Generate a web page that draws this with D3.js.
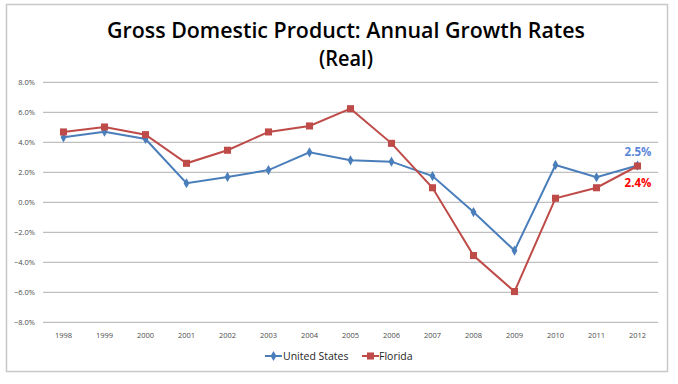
<!DOCTYPE html>
<html>
<head>
<meta charset="utf-8">
<script src="https://cdn.jsdelivr.net/npm/d3@7"></script>
<style>
  body { margin: 0; background: #fff; }
  text { font-family: "Open Sans", "Liberation Sans", sans-serif; }
</style>
</head>
<body>
<div id="chart"></div>
<script>
const years = ["1998","1999","2000","2001","2002","2003","2004","2005","2006","2007","2008","2009","2010","2011","2012"];
const unitedStates = [4.33, 4.71, 4.22, 1.27, 1.69, 2.15, 3.33, 2.8, 2.71, 1.75, -0.65, -3.22, 2.49, 1.67, 2.45];
const florida = [4.69, 5.02, 4.51, 2.6, 3.47, 4.69, 5.09, 6.24, 3.93, 0.97, -3.55, -5.95, 0.27, 0.97, 2.42];
const yTicks = [-8, -6, -4, -2, 0, 2, 4, 6, 8];
const endLabels = ["2.5%", "2.4%"];

const W = 678, H = 384;

const svg = d3.select("#chart").append("svg")
    .attr("width", W)
    .attr("height", H);

// outer frame
svg.append("rect")
    .attr("x", 6.5).attr("y", 4.5)
    .attr("width", 661).attr("height", 367)
    .attr("fill", "#fff")
    .attr("stroke", "#c8c8c8")
    .attr("stroke-width", 1.5);

// title
svg.append("text")
    .attr("x", 346).attr("y", 38)
    .attr("text-anchor", "middle")
    .attr("font-size", 21)
    .attr("font-weight", 600)
    .attr("textLength", 478)
    .attr("lengthAdjust", "spacingAndGlyphs")
    .text("Gross Domestic Product: Annual Growth Rates");
svg.append("text")
    .attr("x", 346).attr("y", 66)
    .attr("text-anchor", "middle")
    .attr("font-size", 21)
    .attr("font-weight", 600)
    .attr("textLength", 54)
    .attr("lengthAdjust", "spacingAndGlyphs")
    .text("(Real)");

const x = d3.scaleBand()
    .domain(years)
    .range([43, 658]);

const y = d3.scaleLinear()
    .domain([-8, 8])
    .range([322.3, 82.3]);

// gridlines
svg.append("g")
    .selectAll("line")
    .data(yTicks)
    .enter()
    .append("line")
    .attr("x1", 43).attr("x2", 658)
    .attr("y1", d => y(d)).attr("y2", d => y(d))
    .attr("stroke", "#bfbfbf")
    .attr("stroke-width", 1.3);

// y labels
svg.append("g")
    .selectAll("text")
    .data(yTicks)
    .enter()
    .append("text")
    .attr("x", 35)
    .attr("y", d => y(d) + 3)
    .attr("text-anchor", "end")
    .attr("font-size", 7.5)
    .attr("fill", "#4d4d4d")
    .text(d => d3.format(".1f")(d) + "%");

// x labels
svg.append("g")
    .selectAll("text")
    .data(years)
    .enter()
    .append("text")
    .attr("x", d => x(d) + x.bandwidth() / 2)
    .attr("y", 338)
    .attr("text-anchor", "middle")
    .attr("font-size", 7.5)
    .attr("fill", "#4d4d4d")
    .text(d => d);

const line = d3.line()
    .x((d, i) => x(years[i]) + x.bandwidth() / 2)
    .y(d => y(d));

const series = [
    { name: "United States", values: unitedStates, color: "#4a7ebb", symbol: d3.symbolDiamond, size: 30 },
    { name: "Florida", values: florida, color: "#be4b48", symbol: d3.symbolSquare, size: 50 }
];

series.forEach(s => {
    svg.append("path")
        .datum(s.values)
        .attr("fill", "none")
        .attr("stroke", s.color)
        .attr("stroke-width", 2)
        .attr("d", line);
});
series.forEach(s => {
    svg.append("g")
        .selectAll("path")
        .data(s.values)
        .enter()
        .append("path")
        .attr("transform", (d, i) => "translate(" + (x(years[i]) + x.bandwidth() / 2) + "," + y(d) + ")")
        .attr("d", d3.symbol().type(s.symbol).size(s.size))
        .attr("fill", s.color);
});

// end labels
svg.append("text")
    .attr("x", 638).attr("y", 156)
    .attr("text-anchor", "middle")
    .attr("font-size", 11.5)
    .attr("font-weight", "bold")
    .attr("fill", "#5b87d8")
    .text(endLabels[0]);
svg.append("text")
    .attr("x", 638).attr("y", 187)
    .attr("text-anchor", "middle")
    .attr("font-size", 11.5)
    .attr("font-weight", "bold")
    .attr("fill", "#ff0000")
    .text(endLabels[1]);

// legend
const legendItems = [
    { s: series[0], x: 265, tx: 283 },
    { s: series[1], x: 362, tx: 379 }
];
legendItems.forEach(li => {
    const g = svg.append("g");
    g.append("line")
        .attr("x1", li.x).attr("x2", li.x + 17)
        .attr("y1", 356).attr("y2", 356)
        .attr("stroke", li.s.color)
        .attr("stroke-width", 2);
    g.append("path")
        .attr("transform", "translate(" + (li.x + 8.5) + ",356)")
        .attr("d", d3.symbol().type(li.s.symbol).size(li.s.size))
        .attr("fill", li.s.color);
    g.append("text")
        .attr("x", li.tx).attr("y", 360)
        .attr("font-size", 10.5)
        .attr("fill", "#262626")
        .text(li.s.name);
});
</script>
</body>
</html>
